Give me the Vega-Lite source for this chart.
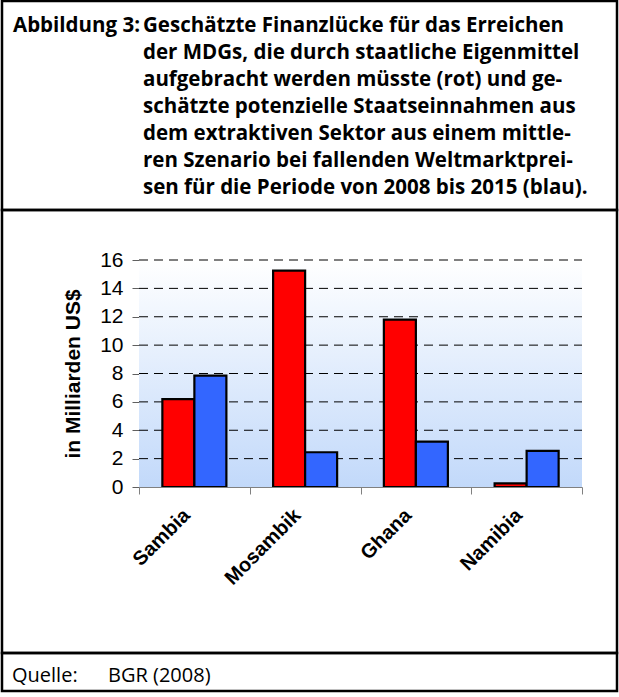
{
  "$schema": "https://vega.github.io/schema/vega-lite/v6.json",
  "padding": {"left": -7, "top": -1, "right": 0, "bottom": 0},
  "spacing": 0,
  "bounds": "flush",
  "background": "white",
  "config": {
    "view": {"stroke": "black", "strokeWidth": 2.5},
    "font": "Open Sans",
    "axisX": {
      "title": null, "offset": -166, "tickBand": "extent", "labelAngle": -45, "labelAlign": "right", "labelBaseline": "middle",
      "labelFont": "Liberation Sans", "labelFontWeight": "bold", "labelFontSize": 20, "labelColor": "black", "labelPadding": 18, "labelOffset": -8,
      "domainColor": "#808080", "tickColor": "#808080", "tickSize": 7, "grid": false
    },
    "axisY": {
      "titleFont": "Liberation Sans", "titleFontWeight": "bold", "titleFontSize": 21, "titleColor": "black", "titlePadding": 16,
      "offset": -137,
      "labelFont": "Liberation Sans", "labelFontSize": 21, "labelColor": "black", "labelPadding": 9,
      "domainColor": "#808080", "tickColor": "#606060", "tickSize": 7, "grid": false
    }
  },
  "vconcat": [
    {
      "width": 615,
      "height": 209,
      "data": {"values": [
        {"teil": "label", "text": "Abbildung 3:"},
        {"teil": "text", "text": "Geschätzte Finanzlücke für das Erreichen\nder MDGs, die durch staatliche Eigenmittel\naufgebracht werden müsste (rot) und ge-\nschätzte potenzielle Staatseinnahmen aus\ndem extraktiven Sektor aus einem mittle-\nren Szenario bei fallenden Weltmarktprei-\nsen für die Periode von 2008 bis 2015 (blau)."}
      ]},
      "mark": {"type": "text", "align": "left", "baseline": "alphabetic", "lineBreak": "\n", "lineHeight": 27, "font": "Open Sans", "fontWeight": "bold", "fontSize": 20.5, "color": "black"},
      "encoding": {
        "x": {"field": "teil", "type": "nominal", "scale": {"type": "point", "domain": ["label", "text"], "range": [11, 141], "padding": 0}, "axis": null},
        "y": {"field": "teil", "type": "nominal", "scale": {"type": "point", "domain": ["label", "text"], "range": [31, 31], "padding": 0}, "axis": null},
        "text": {"field": "text", "type": "nominal"}
      }
    },
    {
      "width": 615,
      "height": 443,
      "data": {"values": [
        {"land": "Sambia", "reihe": "rot", "wert": 6.2},
        {"land": "Sambia", "reihe": "blau", "wert": 7.85},
        {"land": "Mosambik", "reihe": "rot", "wert": 15.25},
        {"land": "Mosambik", "reihe": "blau", "wert": 2.45},
        {"land": "Ghana", "reihe": "rot", "wert": 11.8},
        {"land": "Ghana", "reihe": "blau", "wert": 3.2},
        {"land": "Namibia", "reihe": "rot", "wert": 0.25},
        {"land": "Namibia", "reihe": "blau", "wert": 2.55}
      ]},
      "layer": [
        {
          "mark": {"type": "rect", "fill": {"gradient": "linear", "x1": 0, "y1": 0, "x2": 0, "y2": 1, "stops": [{"offset": 0, "color": "#ffffff"}, {"offset": 1, "color": "#c2d9fa"}]}},
          "encoding": {
            "x": {"datum": "Sambia", "type": "nominal", "bandPosition": 0, "title": null},
            "x2": {"datum": "Namibia", "bandPosition": 1},
            "y": {"datum": 16, "type": "quantitative", "title": "in Milliarden US$", "axis": {"values": [0, 2, 4, 6, 8, 10, 12, 14, 16]}},
            "y2": {"datum": 0}
          }
        },
        {
          "data": {"values": [{"g": 2}, {"g": 4}, {"g": 6}, {"g": 8}, {"g": 10}, {"g": 12}, {"g": 14}, {"g": 16}]},
          "mark": {"type": "rule", "color": "black", "strokeWidth": 1, "strokeDash": [9, 6]},
          "encoding": {
            "x": {"datum": "Sambia", "type": "nominal", "bandPosition": 0, "title": null},
            "x2": {"datum": "Namibia", "bandPosition": 1},
            "y": {"field": "g", "type": "quantitative", "title": "in Milliarden US$", "axis": {"values": [0, 2, 4, 6, 8, 10, 12, 14, 16]}}
          }
        },
        {
          "mark": {"type": "bar", "stroke": "black", "strokeWidth": 2.2},
          "encoding": {
            "x": {
              "field": "land", "type": "nominal", "title": null,
              "scale": {"domain": ["Sambia", "Mosambik", "Ghana", "Namibia"], "range": [137, 580], "paddingInner": 0, "paddingOuter": 0}
            },
            "xOffset": {"field": "reihe", "type": "nominal", "sort": ["rot", "blau"], "scale": {"paddingOuter": 0.73, "paddingInner": 0}},
            "y": {
              "field": "wert", "type": "quantitative", "title": "in Milliarden US$",
              "scale": {"domain": [0, 16], "range": [277, 50], "nice": false},
              "axis": {"values": [0, 2, 4, 6, 8, 10, 12, 14, 16]}
            },
            "color": {"field": "reihe", "type": "nominal", "scale": {"domain": ["rot", "blau"], "range": ["#ff0000", "#3366ff"]}, "legend": null}
          }
        }
      ]
    },
    {
      "width": 615,
      "height": 38,
      "data": {"values": [
        {"teil": "label", "text": "Quelle:"},
        {"teil": "text", "text": "BGR (2008)"}
      ]},
      "mark": {"type": "text", "align": "left", "baseline": "alphabetic", "font": "Open Sans", "fontSize": 20, "color": "black"},
      "encoding": {
        "x": {"field": "teil", "type": "nominal", "scale": {"type": "point", "domain": ["label", "text"], "range": [10, 106], "padding": 0}, "axis": null},
        "y": {"field": "teil", "type": "nominal", "scale": {"type": "point", "domain": ["label", "text"], "range": [29, 29], "padding": 0}, "axis": null},
        "text": {"field": "text", "type": "nominal"}
      }
    }
  ]
}
